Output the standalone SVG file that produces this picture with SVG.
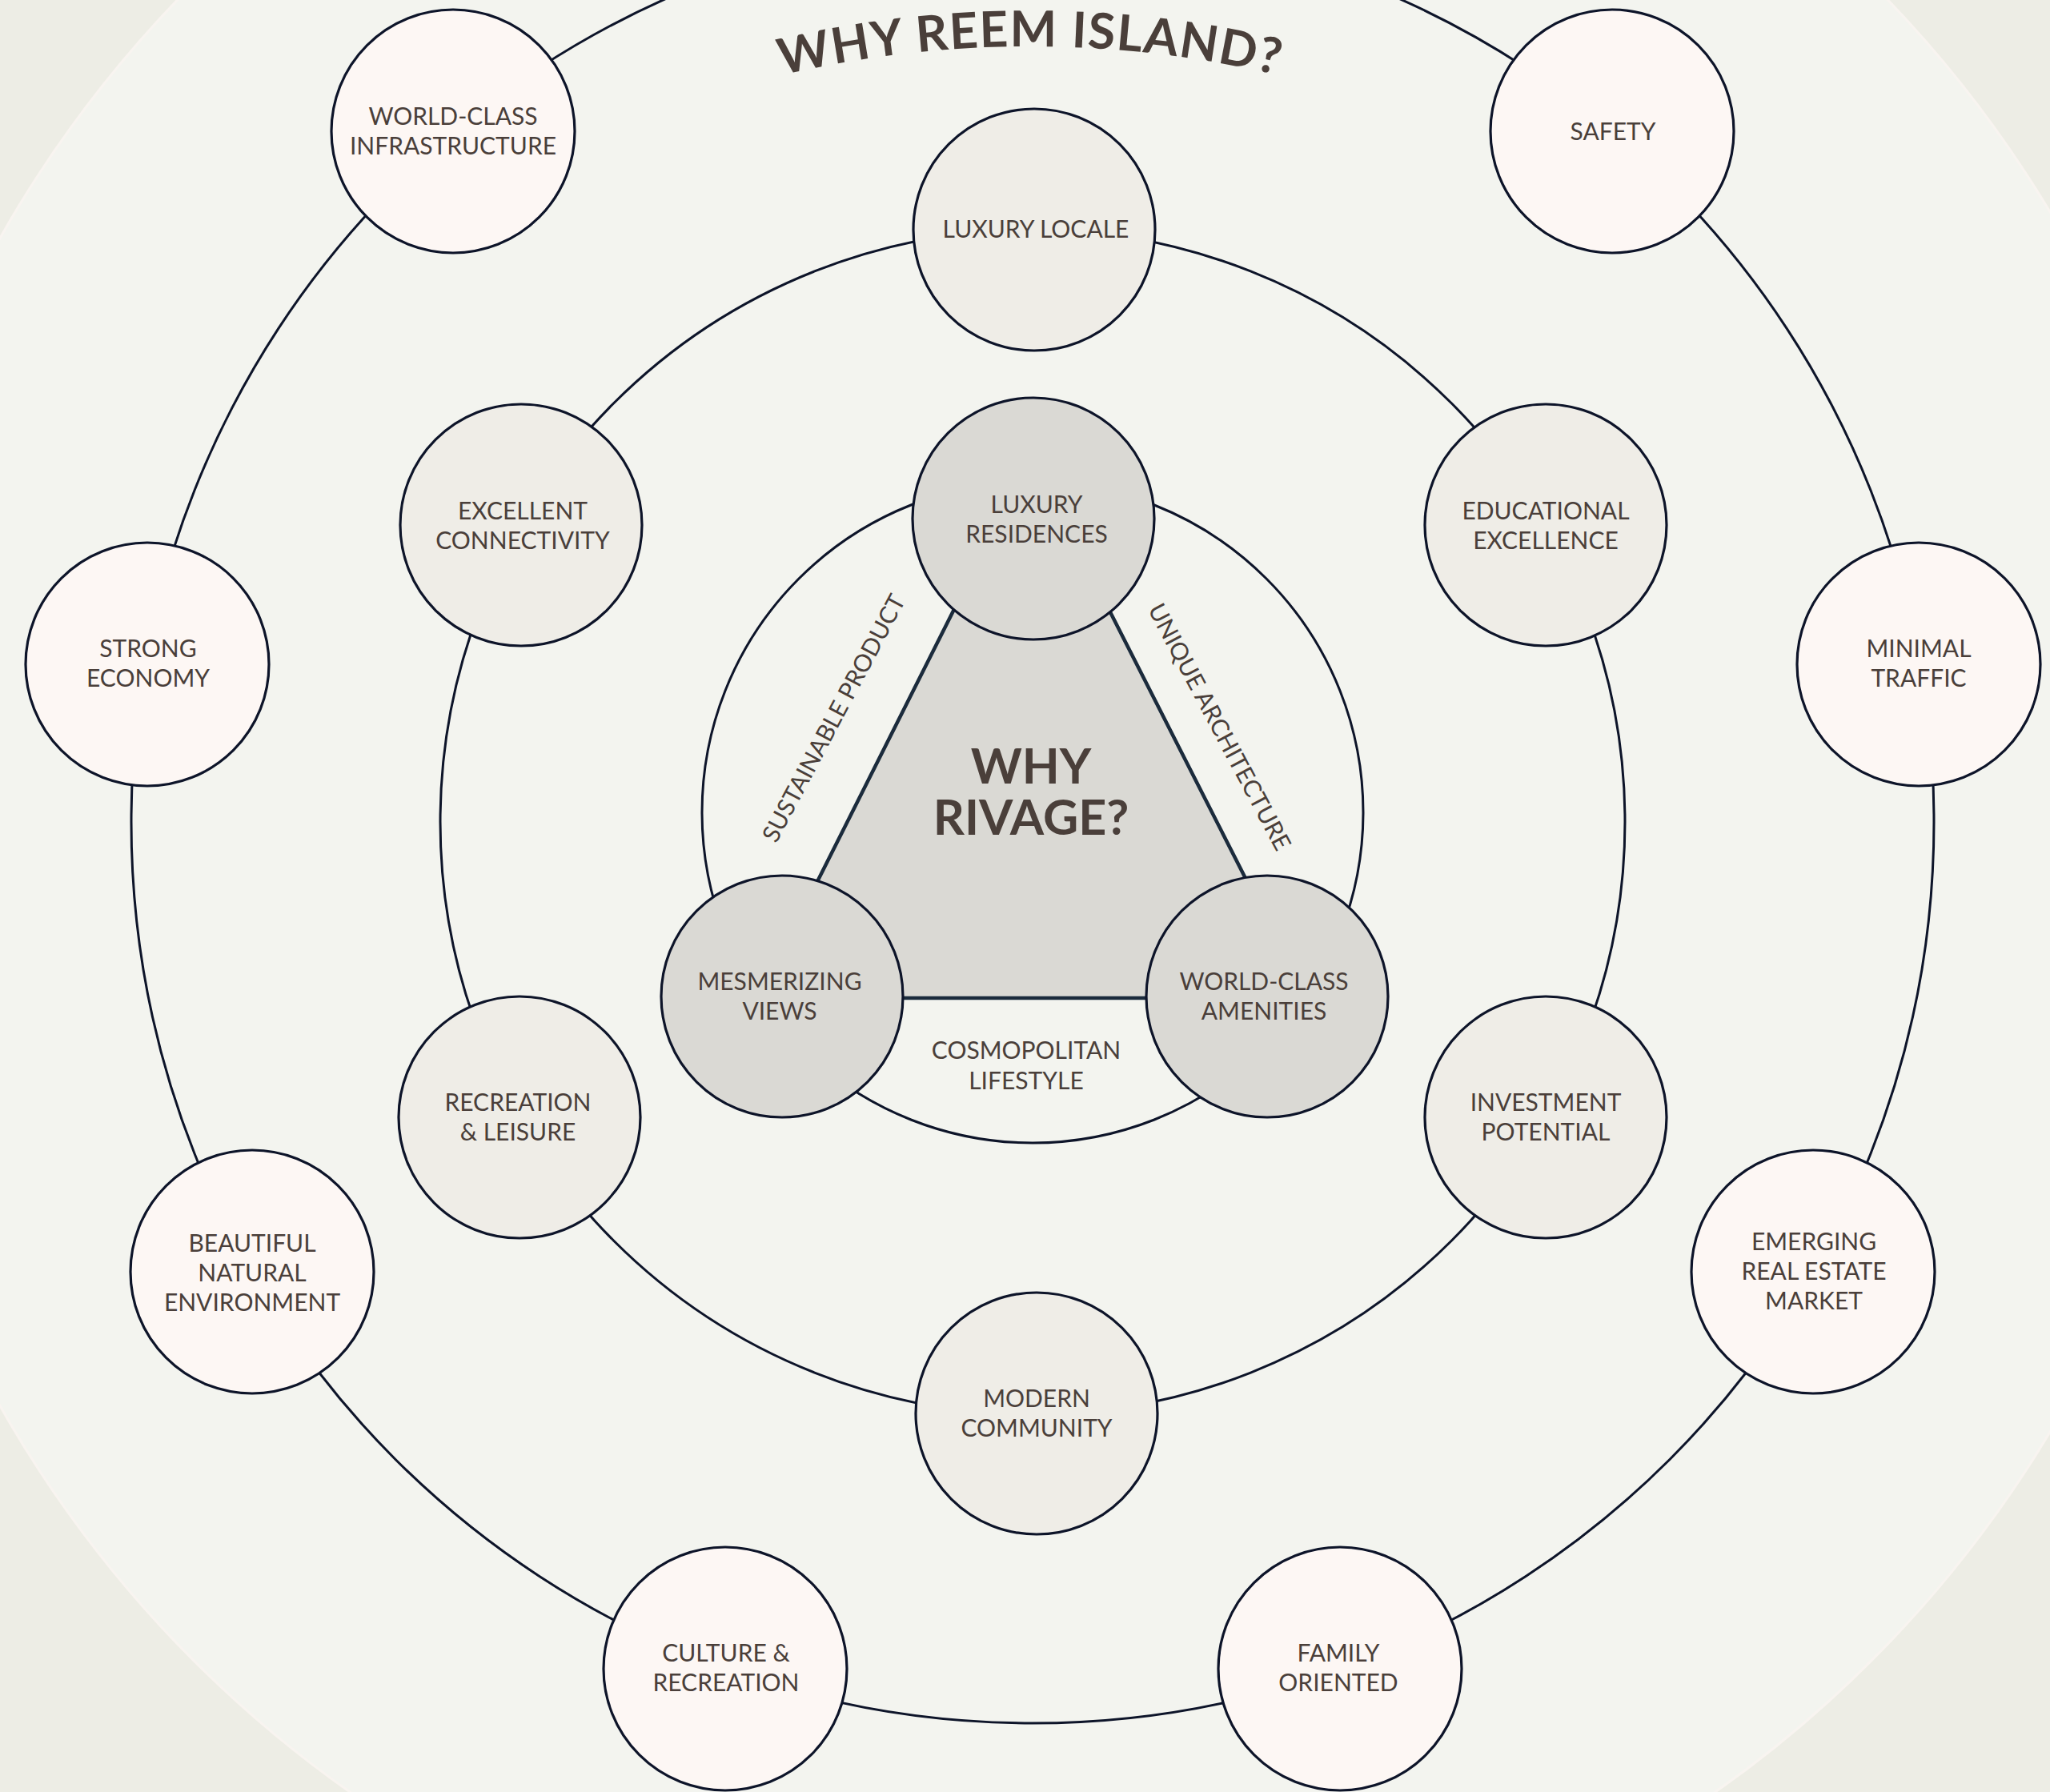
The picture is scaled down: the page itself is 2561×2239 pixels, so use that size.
<svg xmlns="http://www.w3.org/2000/svg" width="2561" height="2239" viewBox="0 0 2561 2239">
<defs>
<style>
.ring{fill:none;stroke:#0D1429;stroke-width:3}
.tri{fill:#DAD9D4;stroke:#1B2B3C;stroke-width:4.5;stroke-linejoin:miter}
.n1 circle{fill:#FDF7F4;stroke:#0D1429;stroke-width:3.2}
.n2 circle{fill:#EFEDE7;stroke:#0D1429;stroke-width:3.2}
.n3 circle{fill:#DAD9D4;stroke:#0D1429;stroke-width:3.2}
text{font-family:Lato,"Liberation Sans",sans-serif;fill:#4A3F3A;text-anchor:middle}
.t{font-size:30px}
.lbl{font-size:30px}
.big{font-size:61px;font-weight:bold}
.title{font-size:62px;font-weight:bold;letter-spacing:1.5px}
</style>
<path id="titleArc" d="M 822.5 139.9 A 1358 1358 0 0 1 1751.5 139.9"/>
</defs>
<rect x="0" y="0" width="2561" height="2239" fill="#EDEDE5"/>
<circle cx="1290" cy="1027" r="1482" fill="#F3F4EF" stroke="#F8F4F0" stroke-width="3"/>

<g id="connectors">
<circle class="ring" cx="1290" cy="1027" r="1126"/>
<circle class="ring" cx="1290" cy="1027" r="740"/>
<circle class="ring" cx="1290" cy="1015" r="413"/>
<polygon class="tri" points="1288,570 948,1247 1632,1247"/>
</g>

<g id="title">
<text class="title"><textPath href="#titleArc" startOffset="50%">WHY REEM ISLAND?</textPath></text>
</g>

<g id="center-label">
<text class="big" x="1288" y="979"><tspan x="1288" y="979">WHY</tspan><tspan x="1288" y="1043">RIVAGE?</tspan></text>
</g>

<g id="edge-labels">
<text class="lbl" transform="translate(1041,897) rotate(-62)" y="11">SUSTAINABLE PRODUCT</text>
<text class="lbl" transform="translate(1524,908) rotate(62)" y="11">UNIQUE ARCHITECTURE</text>
<text class="lbl" x="1282" y="1323">COSMOPOLITAN</text>
<text class="lbl" x="1282" y="1361">LIFESTYLE</text>
</g>

<!-- outer nodes -->
<g id="node-world-class-infrastructure" class="n1"><circle cx="566" cy="164" r="152"/><text class="t" x="566" y="156">WORLD-CLASS</text><text class="t" x="566" y="193">INFRASTRUCTURE</text></g>
<g id="node-safety" class="n1"><circle cx="2014" cy="164" r="152"/><text class="t" x="2015" y="175">SAFETY</text></g>
<g id="node-strong-economy" class="n1"><circle cx="184" cy="830" r="152"/><text class="t" x="185" y="821">STRONG</text><text class="t" x="185" y="858">ECONOMY</text></g>
<g id="node-minimal-traffic" class="n1"><circle cx="2397" cy="830" r="152"/><text class="t" x="2397" y="821">MINIMAL</text><text class="t" x="2397" y="858">TRAFFIC</text></g>
<g id="node-beautiful-natural-environment" class="n1"><circle cx="315" cy="1589" r="152"/><text class="t" x="315" y="1564">BEAUTIFUL</text><text class="t" x="315" y="1601">NATURAL</text><text class="t" x="315" y="1638">ENVIRONMENT</text></g>
<g id="node-emerging-real-estate-market" class="n1"><circle cx="2265" cy="1589" r="152"/><text class="t" x="2266" y="1562">EMERGING</text><text class="t" x="2266" y="1599">REAL ESTATE</text><text class="t" x="2266" y="1636">MARKET</text></g>
<g id="node-culture-recreation" class="n1"><circle cx="906" cy="2085" r="152"/><text class="t" x="907" y="2076">CULTURE &amp;</text><text class="t" x="907" y="2113">RECREATION</text></g>
<g id="node-family-oriented" class="n1"><circle cx="1674" cy="2085" r="152"/><text class="t" x="1672" y="2076">FAMILY</text><text class="t" x="1672" y="2113">ORIENTED</text></g>

<!-- middle nodes -->
<g id="node-luxury-locale" class="n2"><circle cx="1292" cy="287" r="151"/><text class="t" x="1294" y="297">LUXURY LOCALE</text></g>
<g id="node-excellent-connectivity" class="n2"><circle cx="651" cy="656" r="151"/><text class="t" x="653" y="649">EXCELLENT</text><text class="t" x="653" y="686">CONNECTIVITY</text></g>
<g id="node-educational-excellence" class="n2"><circle cx="1931" cy="656" r="151"/><text class="t" x="1931" y="649">EDUCATIONAL</text><text class="t" x="1931" y="686">EXCELLENCE</text></g>
<g id="node-recreation-leisure" class="n2"><circle cx="649" cy="1396" r="151"/><text class="t" x="647" y="1388">RECREATION</text><text class="t" x="647" y="1425">&amp; LEISURE</text></g>
<g id="node-investment-potential" class="n2"><circle cx="1931" cy="1396" r="151"/><text class="t" x="1931" y="1388">INVESTMENT</text><text class="t" x="1931" y="1425">POTENTIAL</text></g>
<g id="node-modern-community" class="n2"><circle cx="1295" cy="1766" r="151"/><text class="t" x="1295" y="1758">MODERN</text><text class="t" x="1295" y="1795">COMMUNITY</text></g>

<!-- inner nodes -->
<g id="node-luxury-residences" class="n3"><circle cx="1291" cy="648" r="151"/><text class="t" x="1295" y="641">LUXURY</text><text class="t" x="1295" y="678">RESIDENCES</text></g>
<g id="node-mesmerizing-views" class="n3"><circle cx="977" cy="1245" r="151"/><text class="t" x="974" y="1237">MESMERIZING</text><text class="t" x="974" y="1274">VIEWS</text></g>
<g id="node-world-class-amenities" class="n3"><circle cx="1583" cy="1245" r="151"/><text class="t" x="1579" y="1237">WORLD-CLASS</text><text class="t" x="1579" y="1274">AMENITIES</text></g>
</svg>
